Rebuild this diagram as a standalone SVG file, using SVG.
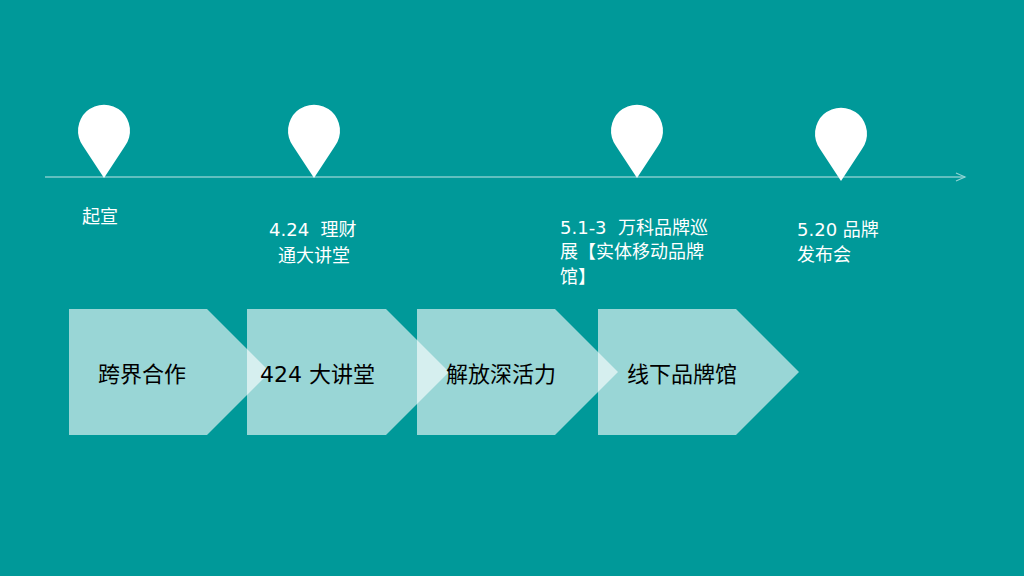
<svg xmlns="http://www.w3.org/2000/svg" width="1024" height="576" viewBox="0 0 1024 576">
<defs>
<style>
.t{font-family:"DejaVu Sans","Noto Sans CJK SC",sans-serif;fill:#fff;font-size:18px}
.c{font-family:"DejaVu Sans","Noto Sans CJK SC",sans-serif;fill:#000;font-size:22px}
.ch{fill:#fff;fill-opacity:0.6}
.pin{fill:#fff}
</style>
<marker id="arr" markerWidth="12" markerHeight="10" refX="10" refY="5" orient="auto" markerUnits="userSpaceOnUse">
<path d="M1,1 L10,5 L1,9" fill="none" stroke="#8fd3d3" stroke-width="1.2"/>
</marker>
<path id="pinshape" d="M-21,16 A26,26 0 1 1 21,16 L0,48 Z"/>
</defs>
<rect width="1024" height="576" fill="#009999"/>
<g id="connectors">
<line x1="45" y1="177" x2="965" y2="177" stroke="#80cccc" stroke-width="1.5" marker-end="url(#arr)"/>
</g>
<g id="pin1"><use href="#pinshape" class="pin" x="104" y="130"/><text class="t" x="82" y="223">起宣</text></g>
<g id="pin2"><use href="#pinshape" class="pin" x="314" y="130"/><text class="t" x="269" y="236" xml:space="preserve">4.24  理财</text><text class="t" x="278" y="262">通大讲堂</text></g>
<g id="pin3"><use href="#pinshape" class="pin" x="637" y="130"/><text class="t" x="560" y="234" xml:space="preserve">5.1-3  万科品牌巡</text><text class="t" x="560" y="258">展【实体移动品牌</text><text class="t" x="560" y="283">馆】</text></g>
<g id="pin4"><use href="#pinshape" class="pin" x="841" y="133"/><text class="t" x="797" y="236">5.20 品牌</text><text class="t" x="797" y="261">发布会</text></g>
<g id="step1"><path class="ch" d="M69,309 H207 L270,372 L207,435 H69 Z"/><text class="c" x="98" y="382">跨界合作</text></g>
<g id="step2"><path class="ch" d="M247,309 H386 L449,372 L386,435 H247 Z"/><text class="c" x="260" y="382">424 大讲堂</text></g>
<g id="step3"><path class="ch" d="M417,309 H555 L618,372 L555,435 H417 Z"/><text class="c" x="446" y="382">解放深活力</text></g>
<g id="step4"><path class="ch" d="M598,309 H736 L799,372 L736,435 H598 Z"/><text class="c" x="627" y="382">线下品牌馆</text></g>
</svg>
